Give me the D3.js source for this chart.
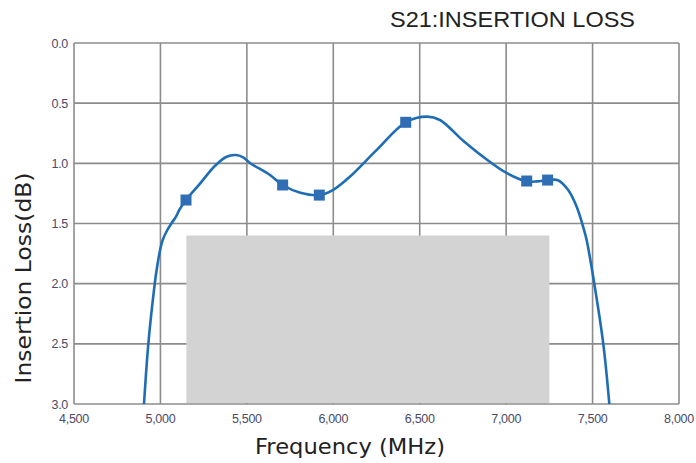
<!DOCTYPE html>
<html><head><meta charset="utf-8">
<script src="https://cdn.jsdelivr.net/npm/d3@7"></script>
<style>body{margin:0;background:#fff}svg{display:block}</style>
</head><body>
<svg id="c" width="696" height="463"></svg>
<script>
const xTicks = [4500,5000,5500,6000,6500,7000,7500,8000];
const yTicks = [0,0.5,1.0,1.5,2.0,2.5,3.0];
const curveFreq = [4905,4930,4963,4978,4998,5013,5040,5065,5090,5109,5148,5229,5316,5383,5435,5479,5518,5634,5707,5810,5919,6000,6097,6250,6419,6544,6617,6750,6880,7000,7119,7180,7240,7300,7358,7408,7446,7466,7510,7562,7597];
const curveLoss = [3.0,2.5,2.05,1.886,1.72,1.637,1.554,1.496,1.443,1.388,1.305,1.168,1.02,0.945,0.931,0.95,0.997,1.097,1.18,1.245,1.264,1.22,1.11,0.89,0.659,0.612,0.64,0.81,0.96,1.078,1.15,1.15,1.14,1.14,1.22,1.36,1.53,1.64,2.0,2.5,3.0];
const markerFreq = [5148,5707,5919,6419,7119,7240];
const markerLoss = [1.305,1.18,1.264,0.659,1.147,1.139];
const bandFreq = [5150,7250];
const bandLoss = [1.6,3.0];

const svg = d3.select('#c');
const L=74,T=43,R=679,B=404;
const x = d3.scaleLinear().domain([4500,8000]).range([L,R]);
const y = d3.scaleLinear().domain([0,3]).range([T,B]);
const fmt = d3.format(',');

// grid
const grid = svg.append('g').attr('stroke','#8c8c8c').attr('stroke-width',1.6);
xTicks.forEach(v=>grid.append('line').attr('x1',x(v)).attr('x2',x(v)).attr('y1',T).attr('y2',B));
yTicks.forEach(v=>grid.append('line').attr('x1',L).attr('x2',R).attr('y1',y(v)).attr('y2',y(v)));
// band over interior grid
svg.append('rect').attr('x',x(bandFreq[0])).attr('y',y(bandLoss[0]))
  .attr('width',x(bandFreq[1])-x(bandFreq[0])).attr('height',y(bandLoss[1])-y(bandLoss[0])-1)
  .attr('fill','#d3d3d3');

// tick labels
svg.append('g').selectAll('text').data(yTicks).join('text')
  .attr('x',L-6).attr('y',d=>y(d)+4.5).attr('text-anchor','end')
  .attr('font-family','Liberation Sans, Arial, sans-serif').attr('font-size',12.5).attr('letter-spacing',-0.3)
  .attr('fill','#4a4a66').text(d=>d.toFixed(1));
svg.append('g').selectAll('text').data(xTicks).join('text')
  .attr('x',d=>x(d)).attr('y',B+18.5).attr('text-anchor','middle')
  .attr('font-family','Liberation Sans, Arial, sans-serif').attr('font-size',12.5).attr('letter-spacing',-0.3)
  .attr('fill','#4a4a66').text(d=>fmt(d));

// clip
svg.append('clipPath').attr('id','cp').append('rect').attr('x',L).attr('y',T).attr('width',R-L).attr('height',B-T);
const pts = curveFreq.map((f,i)=>[f,curveLoss[i]]);
const line = d3.line().x(d=>x(d[0])).y(d=>y(d[1])).curve(d3.curveCatmullRom.alpha(0.5));
svg.append('path').attr('d',line(pts)).attr('fill','none').attr('stroke','#1f6db5').attr('stroke-width',2.6).attr('clip-path','url(#cp)');

svg.append('g').selectAll('rect').data(markerFreq).join('rect')
  .attr('x',(d)=>x(d)-5.5).attr('y',(d,i)=>y(markerLoss[i])-5.5).attr('width',11).attr('height',11)
  .attr('fill','#2f6eb5');

// titles
svg.append('text').attr('x',390).attr('y',26.5).attr('font-family','Liberation Sans Narrow, Liberation Sans, Arial, sans-serif')
  .attr('font-size',22).attr('textLength',245).attr('lengthAdjust','spacingAndGlyphs').attr('fill','#222').text('S21:INSERTION LOSS');
svg.append('text').attr('x',350).attr('y',454).attr('text-anchor','middle').attr('font-family','DejaVu Sans, sans-serif')
  .attr('font-size',21.5).attr('textLength',190).attr('lengthAdjust','spacingAndGlyphs').attr('fill','#222').text('Frequency (MHz)');
svg.append('text').attr('transform','translate(31,278) rotate(-90)').attr('text-anchor','middle').attr('font-family','DejaVu Sans, sans-serif')
  .attr('font-size',21.5).attr('textLength',211).attr('lengthAdjust','spacingAndGlyphs').attr('fill','#222').text('Insertion Loss(dB)');
</script>
</body></html>
